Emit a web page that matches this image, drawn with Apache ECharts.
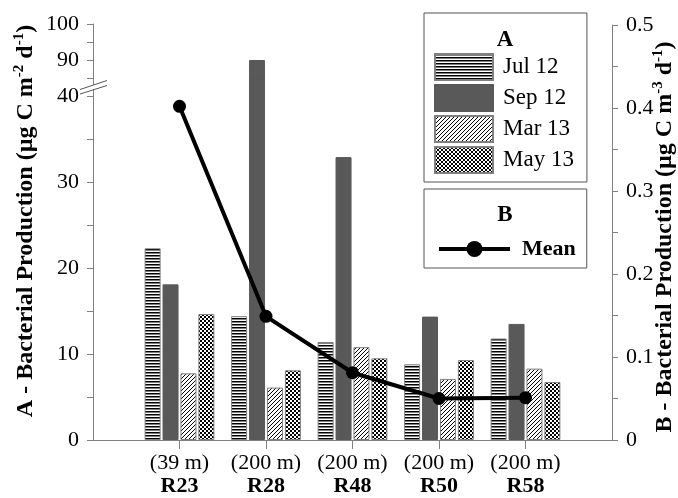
<!DOCTYPE html>
<html><head><meta charset="utf-8">
<script src="https://cdn.jsdelivr.net/npm/echarts@6/dist/echarts.min.js"></script>
<style>html,body{margin:0;padding:0;background:#fff}#c{width:678px;height:498px}</style>
</head><body><div id="c"></div>
<script>
// ---- data ----
const categories = ['R23', 'R28', 'R48', 'R50', 'R58'];
const depths = ['(39 m)', '(200 m)', '(200 m)', '(200 m)', '(200 m)'];
const jul12 = [22.3, 14.4, 11.4, 8.8, 11.8];
const sep12 = [18.1, 90.0, 32.9, 14.35, 13.5];
const mar13 = [7.75, 6.1, 10.8, 7.1, 8.3];
const may13 = [14.65, 8.1, 9.5, 9.3, 6.75];
const meanB = [0.402, 0.149, 0.081, 0.050, 0.051];
const leftLabelsLow = [0, 10, 20, 30, 40];
const leftLabelsHigh = [90, 100];
const rightLabels = [0, 0.1, 0.2, 0.3, 0.4, 0.5];

const FONT = "'Liberation Serif', 'Times New Roman', serif";
const AX = '#808080';

function pat(w, h, draw) {
  const c = document.createElement('canvas');
  c.width = w; c.height = h;
  const ctx = c.getContext('2d');
  ctx.fillStyle = '#fff'; ctx.fillRect(0, 0, w, h);
  ctx.fillStyle = '#000'; ctx.strokeStyle = '#000';
  draw(ctx);
  return { image: c, repeat: 'repeat' };
}
const pHoriz = pat(4, 3, ctx => { ctx.fillRect(0, 0, 4, 1.5); });
const pDiag = pat(4, 4, ctx => {
  ctx.lineWidth = 1;
  ctx.beginPath();
  ctx.moveTo(-1, 5); ctx.lineTo(5, -1);
  ctx.moveTo(-1, 1); ctx.lineTo(1, -1);
  ctx.moveTo(3, 5); ctx.lineTo(5, 3);
  ctx.stroke();
});
const pCheck = pat(4, 4, ctx => { ctx.fillRect(0, 0, 2, 2); ctx.fillRect(2, 2, 2, 2); });

const pad = arr => ['-', ...arr, '-'];
const axisCats = ['', ...categories, ''];

function has(list, v) { return list.some(x => Math.abs(x - v) < 1e-6); }

const barStyles = [
  ['Jul 12', jul12, pHoriz, AX],
  ['Sep 12', sep12, '#595959', '#595959'],
  ['Mar 13', mar13, pDiag, AX],
  ['May 13', may13, pCheck, AX]
];

const series = [];
[0, 1].forEach(gi => {
  barStyles.forEach(([name, data, color, border]) => {
    series.push({
      type: 'bar', name, data: pad(data),
      xAxisIndex: gi, yAxisIndex: gi,
      barWidth: 16, barGap: '12%', clip: true,
      itemStyle: { color, borderColor: border, borderWidth: 1 },
      z: 2
    });
  });
});
series.push({
  type: 'line', name: 'Mean', data: pad(meanB),
  xAxisIndex: 2, yAxisIndex: 2,
  symbol: 'circle', symbolSize: 13,
  lineStyle: { color: '#000', width: 4 },
  itemStyle: { color: '#000' },
  z: 10
});

const tickLabel = { fontFamily: FONT, fontSize: 22, color: '#000' };
const supStyle = { fontFamily: FONT, fontSize: 15, fontWeight: 'bold', fill: '#000', lineHeight: 15, verticalAlign: 'top' };

const chart = echarts.init(document.getElementById('c'), null, { renderer: 'canvas' });
chart.setOption({
  animation: false,
  backgroundColor: '#fff',
  grid: [
    { left: 93, right: 66, top: 78, height: 362 },
    { left: 93, right: 66, top: 24, height: 54 },
    { left: 93, right: 66, top: 25, height: 415 }
  ],
  xAxis: [
    {
      gridIndex: 0, type: 'category', data: axisCats, boundaryGap: false,
      axisLine: { lineStyle: { color: AX, width: 1 } },
      axisTick: { length: 9, interval: (i) => i >= 1 && i <= 5, lineStyle: { color: AX } },
      axisLabel: {
        interval: 0, margin: 12,
        formatter: (v, i) => (i >= 1 && i <= 5) ? '{d|' + depths[i - 1] + '}\n{b|' + v + '}' : '',
        rich: {
          d: { fontFamily: FONT, fontSize: 22, color: '#000', lineHeight: 23 },
          b: { fontFamily: FONT, fontSize: 22, fontWeight: 'bold', color: '#000', lineHeight: 23 }
        }
      },
      splitLine: { show: false }
    },
    { gridIndex: 1, type: 'category', data: axisCats, boundaryGap: false, show: false },
    { gridIndex: 2, type: 'category', data: axisCats, boundaryGap: false, show: false }
  ],
  yAxis: [
    {
      gridIndex: 0, type: 'value', position: 'left', min: 0, max: 42.1, interval: 5,
      axisLine: { show: true, lineStyle: { color: AX } },
      axisTick: { show: true, length: 6, lineStyle: { color: AX } },
      axisLabel: Object.assign({ margin: 14, showMaxLabel: false,
        formatter: v => has(leftLabelsLow, v) ? String(v) : '' }, tickLabel),
      splitLine: { show: false }
    },
    {
      gridIndex: 1, type: 'value', position: 'left', min: 85, max: 100, interval: 5,
      axisLine: { show: true, lineStyle: { color: AX } },
      axisTick: { show: true, length: 6, lineStyle: { color: AX } },
      axisLabel: Object.assign({ margin: 14,
        formatter: v => has(leftLabelsHigh, v) ? String(v) : '' }, tickLabel),
      splitLine: { show: false }
    },
    {
      gridIndex: 2, type: 'value', position: 'right', min: 0, max: 0.5, interval: 0.05,
      axisLine: { show: true, lineStyle: { color: AX } },
      axisTick: { show: true, length: 6, lineStyle: { color: AX } },
      axisLabel: Object.assign({ margin: 14,
        formatter: v => has(rightLabels, v) ? String(Math.round(v * 10) / 10) : '' }, tickLabel),
      splitLine: { show: false }
    }
  ],
  legend: [
    {
      data: ['Jul 12', 'Sep 12', 'Mar 13', 'May 13'],
      orient: 'vertical', left: 424, top: 13,
      padding: [40, 13, 8, 10],
      itemWidth: 58, itemHeight: 26, itemGap: 3, icon: 'rect',
      borderColor: '#555', borderWidth: 1, selectedMode: false,
      textStyle: { fontFamily: FONT, fontSize: 23, color: '#000', padding: [0, 0, 0, 5] }
    },
    {
      data: ['Mean'],
      orient: 'vertical', left: 424, top: 189,
      padding: [49, 11, 8, 13],
      itemWidth: 71, itemHeight: 20,
      borderColor: '#555', borderWidth: 1, selectedMode: false,
      lineStyle: { width: 4, color: '#000' },
      textStyle: { fontFamily: FONT, fontSize: 22, lineHeight: 20, fontWeight: 'bold', color: '#000', padding: [0, 0, 0, 7] }
    }
  ],
  graphic: [
    { type: 'text', x: 505, y: 40, z: 100, style: { text: 'A', fontFamily: FONT, fontSize: 23, fontWeight: 'bold', fill: '#000', align: 'center', verticalAlign: 'middle' } },
    { type: 'text', x: 505, y: 215, z: 100, style: { text: 'B', fontFamily: FONT, fontSize: 23, fontWeight: 'bold', fill: '#000', align: 'center', verticalAlign: 'middle' } },
    {
      type: 'text', x: 26, y: 221, rotation: Math.PI / 2, z: 100,
      style: {
        text: 'A - Bacterial Production (µg C m{s|-2} d{s|-1})',
        fontFamily: FONT, fontSize: 24, fontWeight: 'bold', fill: '#000', lineHeight: 28,
        align: 'center', verticalAlign: 'middle',
        rich: { s: supStyle }
      }
    },
    {
      type: 'text', x: 665, y: 237, rotation: Math.PI / 2, z: 100,
      style: {
        text: 'B - Bacterial Production (µg C m{s|-3} d{s|-1})',
        fontFamily: FONT, fontSize: 24, fontWeight: 'bold', fill: '#000', lineHeight: 28,
        align: 'center', verticalAlign: 'middle',
        rich: { s: supStyle }
      }
    },
    { type: 'polygon', z: 100, shape: { points: [[80, 89.5], [107, 80.5], [107, 85.5], [80, 94]] }, style: { fill: '#fff', stroke: null } },
    { type: 'line', z: 101, shape: { x1: 80, y1: 89.5, x2: 107, y2: 80.5 }, style: { stroke: '#555', lineWidth: 1 } },
    { type: 'line', z: 101, shape: { x1: 80, y1: 94, x2: 107, y2: 85.5 }, style: { stroke: '#555', lineWidth: 1 } }
  ],
  series
});
</script></body></html>
